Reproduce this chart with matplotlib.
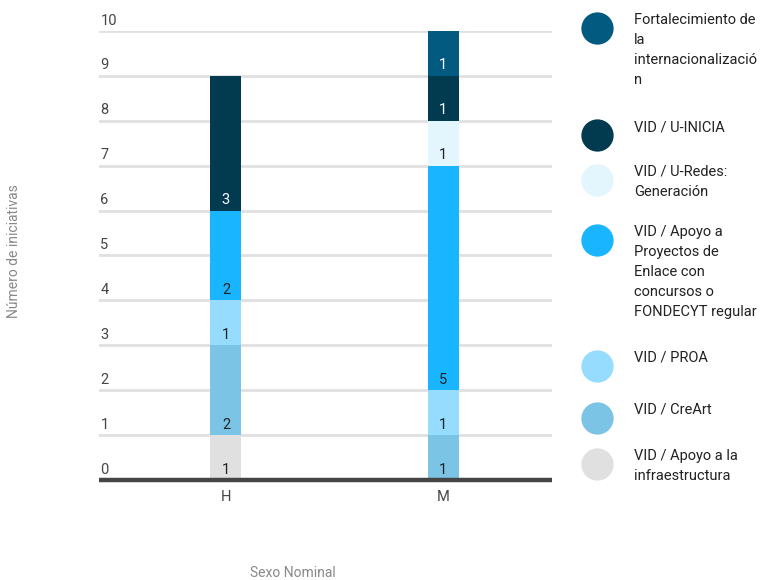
import numpy as np
import matplotlib
matplotlib.use("Agg")
import matplotlib.pyplot as plt

plt.rcParams['font.family'] = ['Roboto', 'DejaVu Sans']

# datos
sexos = ['H', 'M']
programas = [
    'VID / Apoyo a la\ninfraestructura',
    'VID / CreArt',
    'VID / PROA',
    'VID / Apoyo a\nProyectos de\nEnlace con\nconcursos o\nFONDECYT regular',
    'VID / U-Redes:\nGeneración',
    'VID / U-INICIA',
    'Fortalecimiento de\nla\ninternacionalizació\nn',
]
valores_H = [1, 2, 1, 2, 0, 3, 0]
valores_M = [0, 1, 1, 5, 1, 1, 1]
colores = ['#e0e0e0', '#7cc4e6', '#95dcff', '#19b5fe', '#e3f5fd', '#023a4f', '#025a80']
texto_blanco = [False, False, False, False, False, True, True]

fig = plt.figure(figsize=(7.61, 5.80), dpi=100)
ax = fig.add_axes([99/761, 1 - 480/580, (552 - 99)/761, (480 - 31)/580])

x = np.arange(len(sexos))
base = np.zeros(len(sexos))
ancho = 0.143
for i, prog in enumerate(programas):
    vals = np.array([valores_H[i], valores_M[i]])
    ax.bar(x, vals, ancho, bottom=base, color=colores[i], zorder=2)
    for j in range(len(sexos)):
        if vals[j] > 0:
            ax.annotate(str(vals[j]), (x[j], base[j]), xytext=(0, 2.5),
                        textcoords='offset points', ha='center', va='bottom',
                        fontsize=10.5, color='white' if texto_blanco[i] else '#222222',
                        zorder=3)
    base = base + vals

ax.set_xlim(-0.585, 1.502)
ax.set_ylim(0, 10)
for v in range(1, 11):
    ax.axhline(v, color='#e0e0e0', lw=2, zorder=1)
ax.axhline(0, color='#444444', lw=3.2, zorder=4, clip_on=False, solid_capstyle='butt')
for v in range(0, 11):
    ax.annotate(str(v), (0, v), xycoords=ax.get_yaxis_transform(), xytext=(1, 2.5),
                textcoords='offset points', ha='left', va='bottom',
                fontsize=10.5, color='#444444')
for s in ax.spines.values():
    s.set_visible(False)
ax.set_yticks([])
ax.set_xticks(x)
ax.set_xticklabels(sexos, fontsize=10.5, color='#444444')
ax.tick_params(axis='x', length=0, pad=7)

fig.text(293/761, 1 - 573/580, 'Sexo Nominal', ha='center', va='center',
         fontsize=10, color='#888888')
fig.text(14/761, 1 - 251/580, 'Número de iniciativas', ha='center', va='center',
         rotation=90, fontsize=10, color='#888888')

# leyenda (de arriba hacia abajo)
lax = fig.add_axes([0, 0, 1, 1])
lax.set_xlim(0, 761)
lax.set_ylim(580, 0)
lax.axis('off')
leyenda_y = [20, 127, 172, 232, 358, 410, 456]
orden = list(range(len(programas)))[::-1]
for k, i in enumerate(orden):
    y0 = leyenda_y[k]
    lax.scatter([597], [y0 + 8], s=540, color=colores[i], lw=0)
    for n, linea in enumerate(programas[i].split('\n')):
        lax.text(634, y0 + n * 20, linea, ha='left', va='center',
                 fontsize=10.5, color='#222222')

fig.savefig('out.png', dpi=100)
